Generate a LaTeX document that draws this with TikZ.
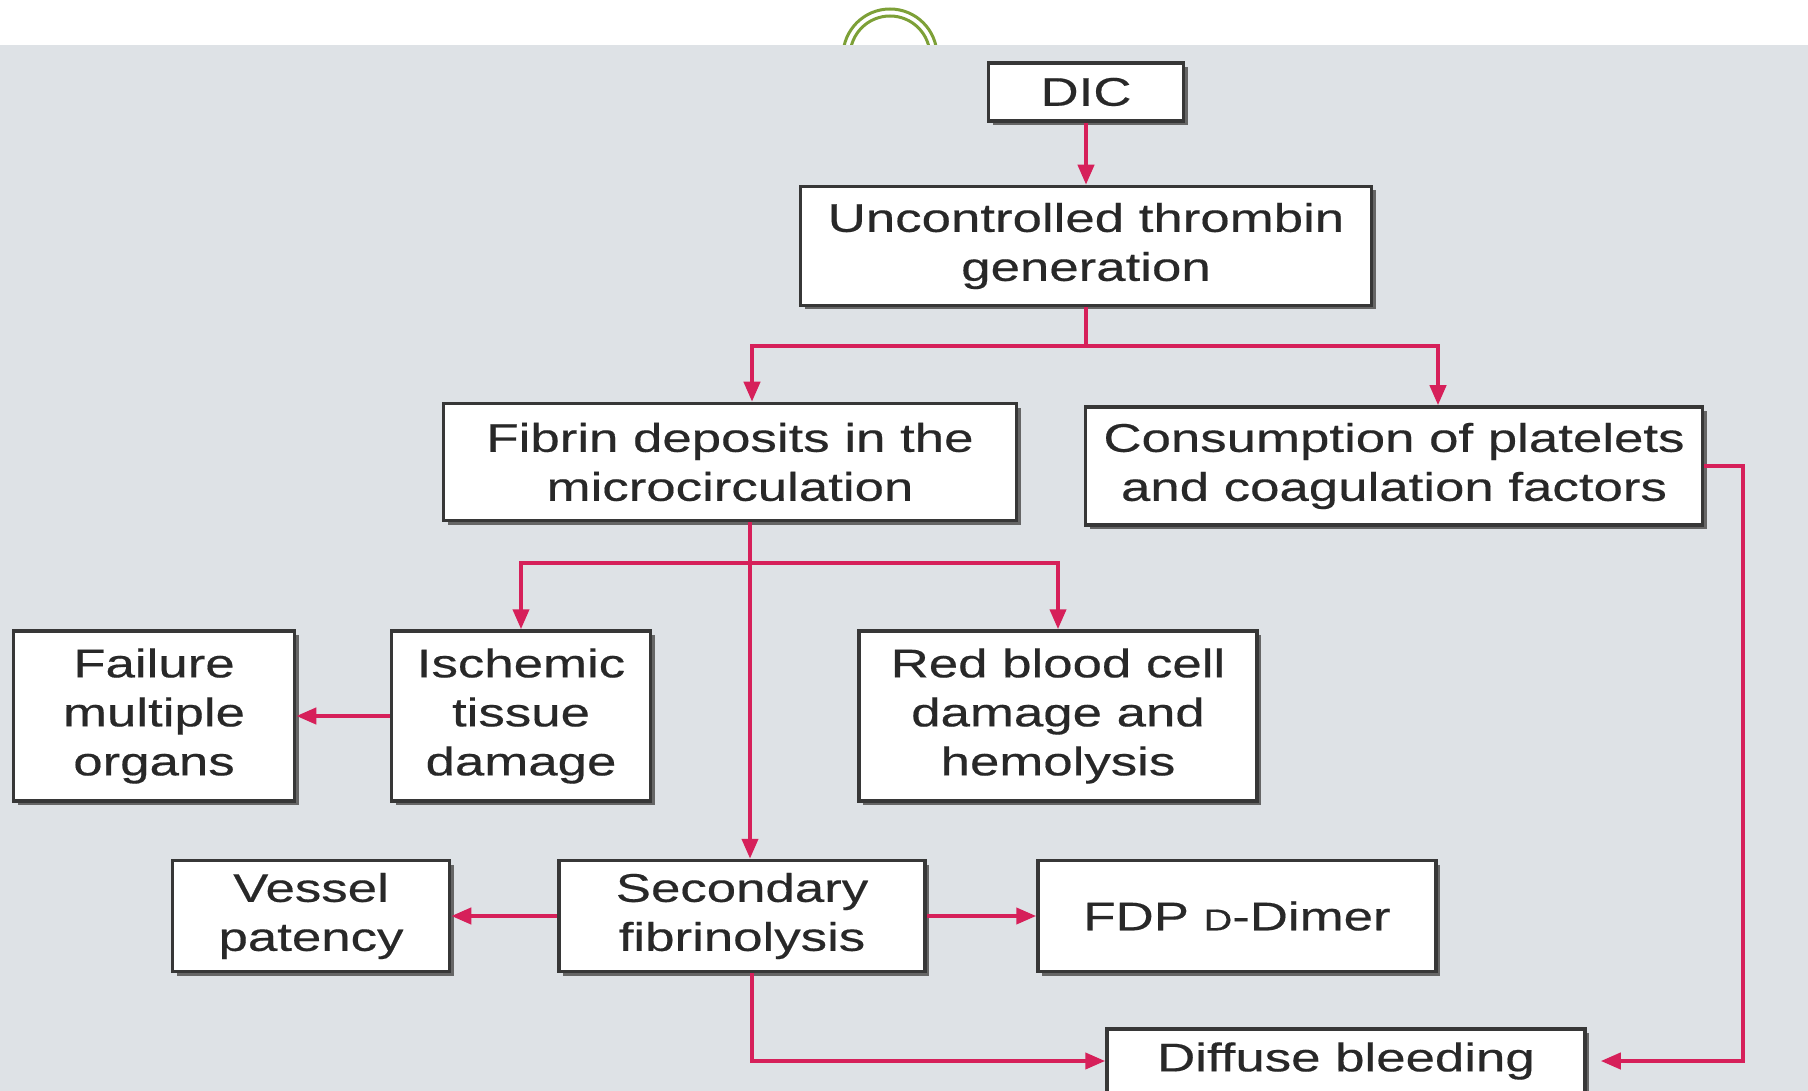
\documentclass[tikz,border=0pt]{standalone}
\usepackage{fontspec}
\setmainfont{Liberation Sans}[FakeStretch=1.32, FakeBold=0.4]
\usetikzlibrary{arrows.meta, shadows}

\definecolor{panel}{RGB}{222,226,230}
\definecolor{ring}{RGB}{125,160,55}
\definecolor{crim}{RGB}{214,32,90}
\definecolor{boxline}{RGB}{55,55,55}
\definecolor{txt}{RGB}{40,40,40}

\begin{document}
\begin{tikzpicture}[x=1pt, y=-1pt,
    box/.style={draw=boxline, line width=3.5pt, fill=white, align=center, inner sep=2pt,
        text=txt, font=\fontsize{40}{49}\selectfont,
        drop shadow={shadow xshift=4pt, shadow yshift=-4pt, fill=black!60, opacity=1}},
    link/.style={draw=crim, line width=4pt, -{Triangle[length=20pt,width=16pt]}}]
    \useasboundingbox (0,0) rectangle (1808,1091);

    % ring behind the panel, then the panel
    \draw[ring, line width=3pt] (890,56) circle (47);
    \draw[ring, line width=3pt] (890,56) circle (40);
    \fill[panel] (0,45) rectangle (1808,1091);

    % boxes
    \node[box, minimum width=195, minimum height=58] (dic) at (1086,92) {DIC};
    \node[box, minimum width=571, minimum height=119] (unc) at (1086,246) {Uncontrolled thrombin\\generation};
    \node[box, minimum width=573, minimum height=117] (fib) at (730,462) {Fibrin deposits in the\\microcirculation};
    \node[box, minimum width=617, minimum height=118] (con) at (1394,466) {Consumption of platelets\\and coagulation factors};
    \node[box, minimum width=281, minimum height=170] (fail) at (154,716) {Failure\\multiple\\organs};
    \node[box, minimum width=259, minimum height=170] (isc) at (521,716) {Ischemic\\tissue\\damage};
    \node[box, minimum width=398, minimum height=170] (rbc) at (1058,716) {Red blood cell\\damage and\\hemolysis};
    \node[box, minimum width=277, minimum height=111] (ves) at (311,916) {Vessel\\patency};
    \node[box, minimum width=366, minimum height=111] (sec) at (742,916) {Secondary\\fibrinolysis};
    \node[box, minimum width=398, minimum height=111] (fdp) at (1237,916) {FDP {\fontsize{30}{49}\selectfont D}-Dimer};
    \node[box, minimum width=478, minimum height=64] (dif) at (1346,1061) {Diffuse bleeding};

    % junctions
    \coordinate (j1) at (1086,346);
    \coordinate (j2) at (750,563);
    \coordinate (r1) at (1743,1061);

    % connectors
    \draw[link] (dic) -- (unc);
    \draw[crim, line width=4pt] (unc.south) -- (j1);
    \draw[link] (j1) -| ([xshift=22pt]fib.north);
    \draw[link] (j1) -| ([xshift=44pt]con.north);
    \draw[link] ([xshift=20pt]fib.south) -- ([xshift=20pt]fib.south |- sec.north);
    \draw[link] (j2) -| (isc);
    \draw[link] (j2) -| (rbc);
    \draw[link] (isc) -- (fail);
    \draw[link] (sec) -- (ves);
    \draw[link] (sec) -- (fdp);
    \draw[link] ([xshift=10pt]sec.south) |- (dif);
    \draw[link, shorten >=14pt] (con) -| (r1) -- (dif);
\end{tikzpicture}
\end{document}
